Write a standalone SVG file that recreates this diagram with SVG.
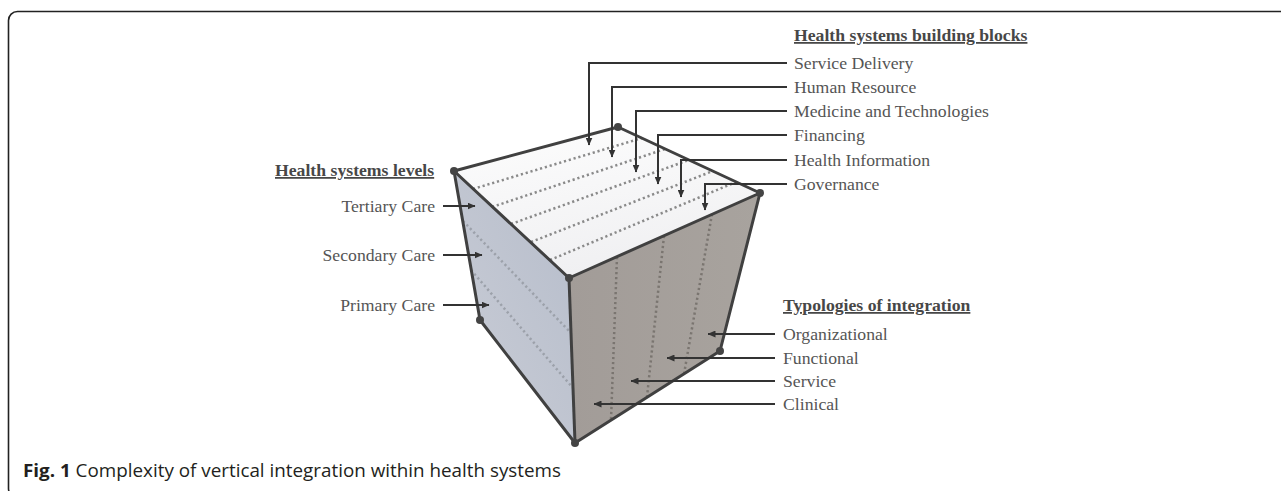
<svg xmlns="http://www.w3.org/2000/svg" width="1281" height="491" viewBox="0 0 1281 491">
<defs>
<style>
.lbl{font-family:"Liberation Serif","Times New Roman",serif;font-size:17.7px;fill:#555}
.hd{font-family:"Liberation Serif","Times New Roman",serif;font-size:17.7px;font-weight:bold;fill:#474747;text-decoration:underline}
.conn{fill:none;stroke:#333;stroke-width:2;marker-end:url(#ah)}
.edge{fill:none;stroke:#404040;stroke-width:3;stroke-linejoin:round}
.dotT{stroke:#8a8a8a;stroke-width:2.5;stroke-dasharray:2.2 2.8;fill:none}
.dotL{stroke:#9ca1aa;stroke-width:2.5;stroke-dasharray:2.2 2.8;fill:none}
.dotR{stroke:#7a7570;stroke-width:2.5;stroke-dasharray:2.2 2.8;fill:none}
.vtx{fill:#444}
.cap{font-family:"Open Sans","Noto Sans",sans-serif;font-size:18px;fill:#231f20}
</style>
<marker id="ah" markerWidth="8" markerHeight="7" refX="7.5" refY="3.5" orient="auto" markerUnits="userSpaceOnUse">
<path d="M0,0 L8,3.5 L0,7 z" fill="#333"/>
</marker>
<linearGradient id="gTop" x1="0" y1="0" x2="0.3" y2="1">
<stop offset="0" stop-color="#fdfdfd"/>
<stop offset="1" stop-color="#f0f0f2"/>
</linearGradient>
<linearGradient id="gLeft" x1="1" y1="0" x2="0" y2="1">
<stop offset="0" stop-color="#b6bdcb"/>
<stop offset="1" stop-color="#cacdd6"/>
</linearGradient>
<linearGradient id="gRight" x1="0" y1="0" x2="1" y2="0">
<stop offset="0" stop-color="#a29c98"/>
<stop offset="1" stop-color="#a8a39e"/>
</linearGradient>
</defs>
<rect x="0" y="0" width="1281" height="491" fill="#fff"/>
<rect x="8.5" y="11.5" width="1300" height="486" rx="9" fill="none" stroke="#222" stroke-width="1.6"/>

<g id="cube">
<polygon points="454,171 618,127 760,193 569,278" fill="url(#gTop)"/>
<polygon points="454,171 569,278 575,443 480,320" fill="url(#gLeft)"/>
<polygon points="569,278 760,193 720,351 575,443" fill="url(#gRight)"/>
<line class="dotT" x1="473" y1="189" x2="642" y2="138"/>
<line class="dotT" x1="492" y1="207" x2="665" y2="149"/>
<line class="dotT" x1="511" y1="224" x2="689" y2="160"/>
<line class="dotT" x1="531" y1="242" x2="713" y2="171"/>
<line class="dotT" x1="550" y1="260" x2="736" y2="182"/>
<line class="dotL" x1="463" y1="221" x2="571" y2="333"/>
<line class="dotL" x1="471" y1="270" x2="573" y2="388"/>
<line class="dotR" x1="617" y1="257" x2="611" y2="420"/>
<line class="dotR" x1="664" y1="236" x2="647" y2="397"/>
<line class="dotR" x1="712" y1="214" x2="684" y2="374"/>
<polygon class="edge" points="454,171 618,127 760,193 720,351 575,443 480,320"/>
<polyline class="edge" points="454,171 569,278 760,193"/>
<line class="edge" x1="569" y1="278" x2="575" y2="443"/>
<circle class="vtx" cx="618" cy="127" r="4"/>
<circle class="vtx" cx="454" cy="171" r="4"/>
<circle class="vtx" cx="760" cy="193" r="4"/>
<circle class="vtx" cx="569" cy="278" r="4"/>
<circle class="vtx" cx="480" cy="320" r="4"/>
<circle class="vtx" cx="575" cy="443" r="4"/>
<circle class="vtx" cx="720" cy="351" r="4"/>
</g>

<g id="connectors">
<polyline class="conn" points="787,63 589,63 589,145"/>
<polyline class="conn" points="787,87 612,87 612,157"/>
<polyline class="conn" points="787,111 636,111 636,172"/>
<polyline class="conn" points="787,135 658,135 658,184"/>
<polyline class="conn" points="787,160 681,160 681,197"/>
<polyline class="conn" points="787,184 705,184 705,210"/>
<line class="conn" x1="443" y1="206" x2="475" y2="206"/>
<line class="conn" x1="443" y1="255" x2="482" y2="255"/>
<line class="conn" x1="443" y1="305" x2="489" y2="305"/>
<line class="conn" x1="775" y1="334" x2="708" y2="334"/>
<line class="conn" x1="775" y1="358" x2="667" y2="358"/>
<line class="conn" x1="775" y1="381" x2="631" y2="381"/>
<line class="conn" x1="775" y1="404" x2="594" y2="404"/>
</g>

<g id="building-blocks">
<text class="hd" x="794" y="41">Health systems building blocks</text>
<text class="lbl" x="794" y="68.5">Service Delivery</text>
<text class="lbl" x="794" y="92.5">Human Resource</text>
<text class="lbl" x="794" y="116.5">Medicine and Technologies</text>
<text class="lbl" x="794" y="140.5">Financing</text>
<text class="lbl" x="794" y="165.5">Health Information</text>
<text class="lbl" x="794" y="189.5">Governance</text>
</g>

<g id="levels">
<text class="hd" x="275" y="176">Health systems levels</text>
<text class="lbl" x="435" y="211.5" text-anchor="end">Tertiary Care</text>
<text class="lbl" x="435" y="260.5" text-anchor="end">Secondary Care</text>
<text class="lbl" x="435" y="310.5" text-anchor="end">Primary Care</text>
</g>

<g id="typologies">
<text class="hd" x="783" y="311">Typologies of integration</text>
<text class="lbl" x="783" y="339.5">Organizational</text>
<text class="lbl" x="783" y="363.5">Functional</text>
<text class="lbl" x="783" y="386.5">Service</text>
<text class="lbl" x="783" y="409.5">Clinical</text>
</g>

<g id="caption">
<text class="cap" x="23" y="477" textLength="538" lengthAdjust="spacingAndGlyphs"><tspan font-weight="bold">Fig. 1</tspan> Complexity of vertical integration within health systems</text>
</g>
</svg>
